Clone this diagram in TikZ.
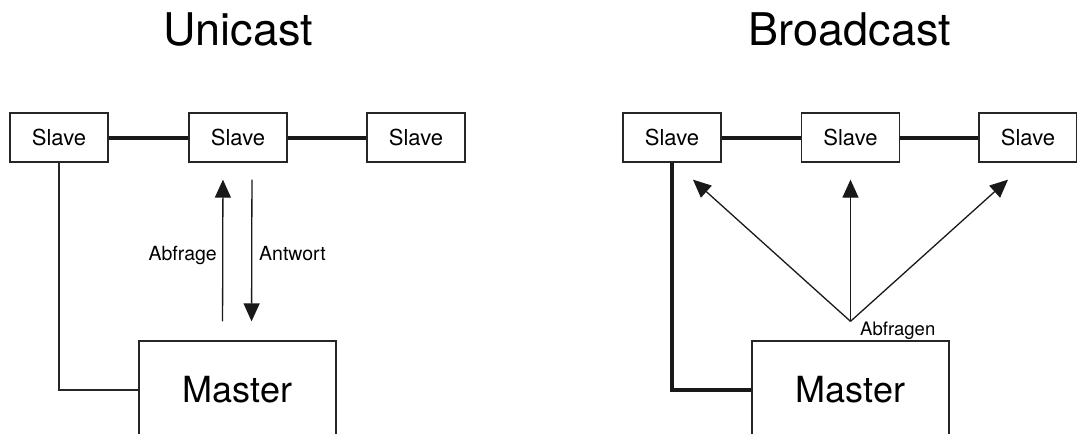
\documentclass[tikz,border=0pt]{standalone}
\usepackage{fontspec}
\setmainfont{TeX Gyre Heros}
\usetikzlibrary{arrows.meta}
\begin{document}
\begin{tikzpicture}[x=1pt, y=-1pt]
  \useasboundingbox (0,0) rectangle (1077,434);

  % Stile.
  \tikzstyle{slave}=[draw=black!85, line width=1.3pt, minimum width=98pt, minimum height=49pt, inner sep=0pt, font=\fontsize{22}{26}\selectfont]
  \tikzstyle{master}=[draw=black!85, line width=1.3pt, minimum width=197pt, minimum height=98pt, inner sep=0pt, font=\fontsize{36}{42}\selectfont]
  \tikzstyle{bus}=[line width=4pt, black!90]
  \tikzstyle{wire}=[line width=1.3pt, black!85]
  \tikzstyle{arr}=[line width=1.3pt, black!90, -{Triangle[length=18pt, width=16pt]}]
  \tikzstyle{lbl}=[inner sep=0pt, font=\fontsize{19.5}{23}\selectfont]
  \tikzstyle{title}=[inner sep=0pt, anchor=base, font=\fontsize{45}{52}\selectfont]

  % Titel.
  \node[title] (tu) at (238, 45) {Unicast};
  \node[title] (tb) at (850, 45) {Broadcast};

  % Unicast.
  \node[slave] (a1) at (59, 137.5) {Slave};
  \node[slave] (a2) at (238, 137.5) {Slave};
  \node[slave] (a3) at (416, 137.5) {Slave};
  \node[master] (am) at (237.5, 390) {Master};

  \draw[bus] (a1) -- (a2);
  \draw[bus] (a2) -- (a3);
  \draw[wire] (a1.south) |- (am.west);

  \draw[arr, shorten <=19pt, shorten >=17pt] ([xshift=-15pt]am.north) -- ([xshift=-15pt]a2.south);
  \draw[arr, shorten <=17pt, shorten >=19pt] ([xshift=14pt]a2.south) -- ([xshift=14pt]am.north);
  \node[lbl, anchor=base east] (abf) at (217, 260.5) {Abfrage};
  \node[lbl, anchor=base west] (ant) at (259, 260.5) {Antwort};

  % Broadcast.
  \node[slave] (b1) at (672, 137.5) {Slave};
  \node[slave] (b2) at (850.5, 137.5) {Slave};
  \node[slave] (b3) at (1028, 137.5) {Slave};
  \node[master] (bm) at (850.5, 390) {Master};

  \draw[bus] (b1) -- (b2);
  \draw[bus] (b2) -- (b3);
  \draw[bus] (b1.south) |- (bm.west);

  \coordinate (src) at ([yshift=19pt]bm.north);
  \coordinate (z1) at ([xshift=21pt, yshift=-17pt]b1.south);
  \coordinate (z2) at ([yshift=-17pt]b2.south);
  \coordinate (z3) at ([xshift=-20pt, yshift=-17pt]b3.south);

  \draw[arr] (src) -- (z1);
  \draw[arr] (src) -- (z2);
  \draw[arr] (src) -- (z3);
  \node[lbl, anchor=base west, font=\fontsize{18.5}{22}\selectfont] (abfn) at (860, 335) {Abfragen};
\end{tikzpicture}
\end{document}
